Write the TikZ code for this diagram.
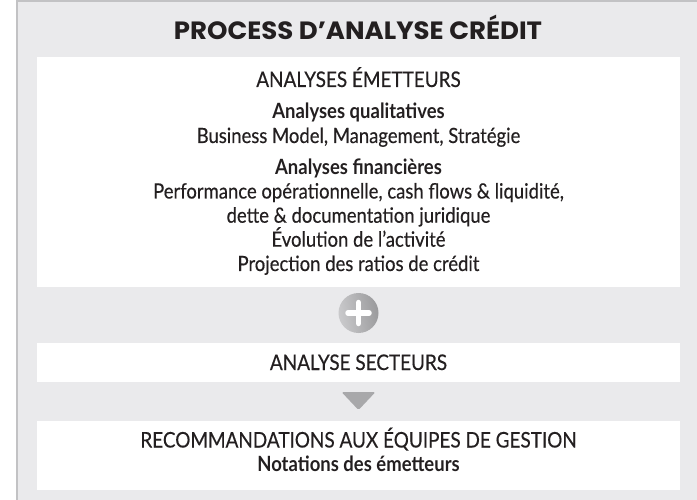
\documentclass[tikz,border=0pt]{standalone}
\usepackage{fontspec}
\setmainfont{Lato}[FakeStretch=0.88, UprightFeatures={FakeBold=0.3}]
\newfontfamily\titlefont{Poppins}[FakeStretch=1.04]
\definecolor{panel}{HTML}{EAEAEC}
\definecolor{edge}{HTML}{C2C2C4}
\definecolor{ink}{HTML}{231F20}
\definecolor{icon}{HTML}{A8A8AA}
\definecolor{iconlight}{HTML}{CACACC}
\definecolor{icondark}{HTML}{9A9A9C}
\begin{document}
\begin{tikzpicture}[x=1pt,y=-1pt,
  box/.style={fill=white, draw=none, minimum width=643pt, inner sep=0pt, anchor=north west},
  txt/.style={anchor=base, inner sep=0pt, text=ink, font=\fontsize{21}{24}\selectfont},
  head/.style={anchor=base, inner sep=0pt, text=ink, font=\fontsize{21.5}{24}\selectfont},
  sub/.style={anchor=base, inner sep=0pt, text=ink, font=\bfseries\fontsize{21}{24}\selectfont},
  ttl/.style={anchor=base, inner sep=0pt, text=ink, font=\titlefont\bfseries\fontsize{25}{28}\selectfont}]
\useasboundingbox (0,0) rectangle (697,500);
\fill[white] (0,0) rectangle (697,500);
\fill[panel] (16,0) rectangle (697,500);
\fill[edge] (16,0) rectangle (697,2.5);
\fill[edge] (16,0) rectangle (17.5,500);

\node[ttl] (title) at (358,40) {PROCESS D’ANALYSE CRÉDIT};

\node[box, minimum height=230pt] (b1) at (37,57) {};
\node[head] (h1) at (358.5,87) {ANALYSES ÉMETTEURS};
\node[sub] (q1) at (358.5,118.5) {Analyses qualitatives};
\node[txt] (q2) at (358.5,143) {Business Model, Management, Stratégie};
\node[sub] (f1) at (358.5,174.5) {Analyses financières};
\node[txt] (f2) at (358.5,198.5) {Performance opérationnelle, cash flows \& liquidité,};
\node[txt] (f3) at (358.5,222.7) {dette \& documentation juridique};
\node[txt] (f4) at (358.5,246.7) {Évolution de l’activité};
\node[txt] (f5) at (358.5,271) {Projection des ratios de crédit};

\node[circle, minimum size=40pt, inner sep=0pt, left color=iconlight, right color=icondark, shading angle=100] (plus) at (358.5,313) {};
\draw[white, line width=5.5pt, line cap=round] ([xshift=-10.5pt]plus.center) -- ([xshift=10.5pt]plus.center);
\draw[white, line width=5.5pt, line cap=round] ([yshift=-10.5pt]plus.center) -- ([yshift=10.5pt]plus.center);

\node[box, minimum height=39pt] (b2) at (37,343) {};
\node[head] (h2) at (358.5,370) {ANALYSE SECTEURS};

\coordinate (tri) at (358.5,401);
\fill[icon, rounded corners=1.5pt] ([shift={(-17,-9)}]tri) -- ([shift={(17,-9)}]tri) -- ([shift={(0,9)}]tri) -- cycle;

\node[box, minimum height=69pt] (b3) at (37,421) {};
\node[head] (h3) at (358.5,447.5) {RECOMMANDATIONS AUX ÉQUIPES DE GESTION};
\node[sub] (n3) at (358.5,471) {Notations des émetteurs};
\end{tikzpicture}
\end{document}
